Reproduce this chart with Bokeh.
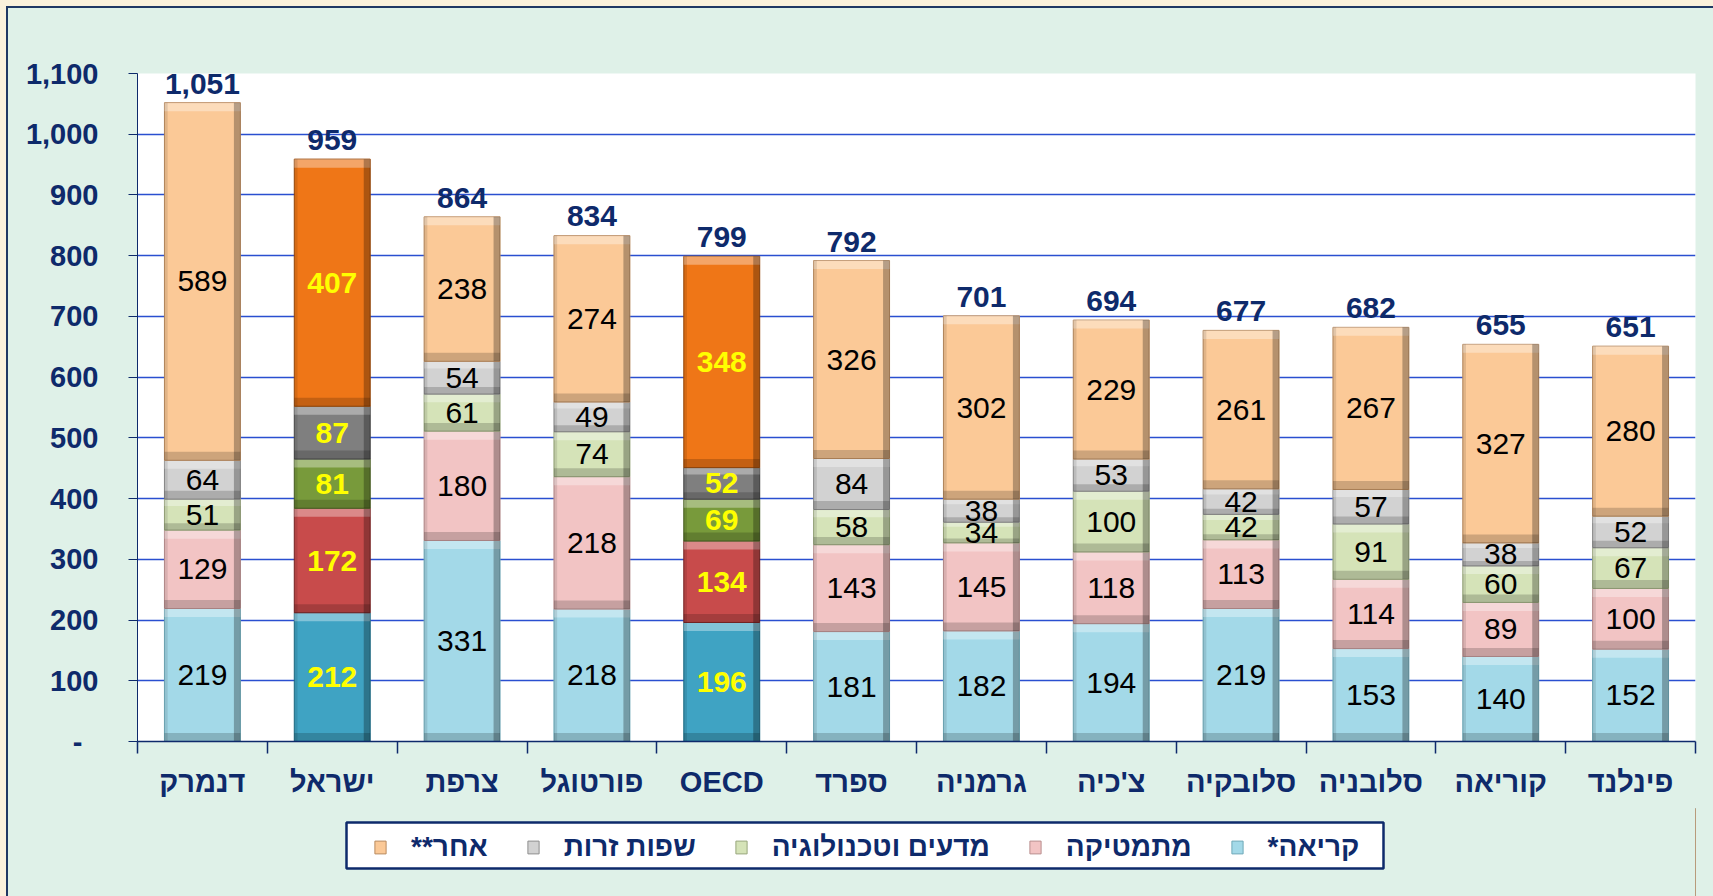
from bokeh.plotting import figure
from bokeh.layouts import column
from bokeh.models import (ColumnDataSource, FixedTicker, NumeralTickFormatter,
                          Legend, LegendItem, LabelSet, BoxAnnotation)
from bokeh.core.properties import value
from bokeh.embed import file_html
from bokeh.resources import INLINE

# ---------------- data ----------------
countries = ["דנמרק", "ישראל", "צרפת", "פורטוגל", "OECD", "ספרד",
             "גרמניה", "צ'כיה", "סלובקיה", "סלובניה", "קוריאה", "פינלנד"]
series_names = ["קריאה*\u200f", "מתמטיקה", "מדעים וטכנולוגיה", "שפות זרות", "אחר**\u200f"]
reading = [219, 212, 331, 218, 196, 181, 182, 194, 219, 153, 140, 152]
math = [129, 172, 180, 218, 134, 143, 145, 118, 113, 114, 89, 100]
science = [51, 81, 61, 74, 69, 58, 34, 100, 42, 91, 60, 67]
languages = [64, 87, 54, 49, 52, 84, 38, 53, 42, 57, 38, 52]
other = [589, 407, 238, 274, 348, 326, 302, 229, 261, 267, 327, 280]
totals = [1051, 959, 864, 834, 799, 792, 701, 694, 677, 682, 655, 651]
highlighted = ["ישראל", "OECD"]
y_ticks = list(range(0, 1101, 100))

# ---------------- style ----------------
light_colors = ["#A3D9E8", "#F2C4C4", "#D5E3B8", "#D2D2D2", "#FBC997"]
dark_colors = ["#3FA3C3", "#C84B4B", "#789A3B", "#7F7F7F", "#EF7617"]
edge_light = ["#6FA9B8", "#B98E8E", "#98A67C", "#8E8E8E", "#B98A5E"]
edge_dark = ["#1F6E88", "#7E2626", "#4B6224", "#4A4A4A", "#9B4A0A"]
NAVY = "#0E2A6B"
BG = "#DFF1E8"
FONT = "Liberation Sans"
BAR_W = 0.585

series = [reading, math, science, languages, other]
xs = [i + 0.5 for i in range(len(countries))]

p = figure(width=1705, height=800, x_range=(0, len(countries)), y_range=(0, 1100),
           output_backend="svg", toolbar_location=None,
           min_border_left=129, min_border_right=18, min_border_top=65, min_border_bottom=67,
           background_fill_color="white", border_fill_color=BG)
p.outline_line_color = None
p.xgrid.grid_line_color = None
p.ygrid.grid_line_color = "#2A4FD0"
p.ygrid.grid_line_width = 1.5
p.ygrid.ticker = FixedTicker(ticks=y_ticks)

lbl_norm = dict(x=[], y=[], t=[])
lbl_hi = dict(x=[], y=[], t=[])
bottoms = [0] * len(countries)
for k, vals in enumerate(series):
    is_hi = [c in highlighted for c in countries]
    cols = [dark_colors[k] if h else light_colors[k] for h in is_hi]
    lcols = [edge_dark[k] if h else edge_light[k] for h in is_hi]
    tops = [b + v for b, v in zip(bottoms, vals)]
    src = ColumnDataSource(dict(x=xs, bottom=bottoms, top=tops, color=cols, lcolor=lcols))
    p.vbar(x="x", width=BAR_W, bottom="bottom", top="top", source=src,
           fill_color="color", line_color="lcolor", line_width=1)
    # bevel decoration (derived from the same data)
    band = [min(14, v * 0.22) for v in vals]
    deco = ColumnDataSource(dict(
        l=[x - BAR_W / 2 for x in xs], r=[x + BAR_W / 2 for x in xs],
        rl=[x + BAR_W / 2 - 0.05 for x in xs], ll=[x - BAR_W / 2 + 0.025 for x in xs],
        b=bottoms, t=tops,
        tb=[t - h for t, h in zip(tops, band)], bt=[b + h for b, h in zip(bottoms, band)]))
    p.quad(left="l", right="r", bottom="tb", top="t", source=deco,
           fill_color="white", fill_alpha=0.35, line_color=None)
    p.quad(left="l", right="r", bottom="b", top="bt", source=deco,
           fill_color="black", fill_alpha=0.18, line_color=None)
    p.quad(left="rl", right="r", bottom="b", top="t", source=deco,
           fill_color="black", fill_alpha=0.28, line_color=None)
    p.quad(left="l", right="ll", bottom="b", top="t", source=deco,
           fill_color="black", fill_alpha=0.10, line_color=None)
    for i, v in enumerate(vals):
        d = lbl_hi if is_hi[i] else lbl_norm
        d["x"].append(xs[i])
        d["y"].append(bottoms[i] + v / 2)
        d["t"].append(str(v))
    bottoms = tops

p.text(x="x", y="y", text="t", source=ColumnDataSource(lbl_norm),
       text_font=value(FONT), text_font_size="30px", text_color="black",
       text_align="center", text_baseline="middle")
p.text(x="x", y="y", text="t", source=ColumnDataSource(lbl_hi),
       text_font=value(FONT), text_font_size="30px", text_font_style="bold",
       text_color="#FFFF00", text_align="center", text_baseline="middle")

tot_src = ColumnDataSource(dict(x=xs, y=totals, t=[f"{v:,}" for v in totals]))
p.add_layout(LabelSet(x="x", y="y", text="t", source=tot_src, y_offset=19,
                      text_font=value(FONT), text_font_size="30px", text_font_style="bold",
                      text_color=NAVY, text_align="center", text_baseline="middle"))

# axes
p.yaxis.ticker = FixedTicker(ticks=y_ticks)
p.yaxis.formatter = NumeralTickFormatter(format="0,0")
p.yaxis.major_label_overrides = {0: "-\u00a0\u00a0"}
p.yaxis.major_tick_out = 9
p.yaxis.major_tick_in = 0
p.yaxis.minor_tick_line_color = None
p.yaxis.major_label_standoff = 30
p.yaxis.axis_line_color = NAVY
p.yaxis.major_tick_line_color = NAVY
p.yaxis.major_label_text_font = FONT
p.yaxis.major_label_text_font_size = "29px"
p.yaxis.major_label_text_font_style = "bold"
p.yaxis.major_label_text_color = NAVY

p.xaxis.ticker = FixedTicker(ticks=xs, minor_ticks=list(range(len(countries) + 1)))
p.xaxis.major_label_overrides = {x: c for x, c in zip(xs, countries)}
p.xaxis.major_tick_out = 0
p.xaxis.major_tick_in = 0
p.xaxis.minor_tick_out = 12
p.xaxis.minor_tick_in = 0
p.xaxis.minor_tick_line_color = NAVY
p.xaxis.minor_tick_line_width = 1.5
p.xaxis.axis_line_color = NAVY
p.xaxis.axis_line_width = 1.5
p.xaxis.major_label_standoff = 12
p.xaxis.major_label_text_font = FONT
p.xaxis.major_label_text_font_size = "29px"
p.xaxis.major_label_text_font_style = "bold"
p.xaxis.major_label_text_color = NAVY

# ---------------- legend strip ----------------
p2 = figure(width=1705, height=88, x_range=(0, 1), y_range=(0, 1),
            output_backend="svg", toolbar_location=None,
            x_axis_location=None, y_axis_location=None,
            min_border_left=129, min_border_right=18, min_border_top=0, min_border_bottom=0,
            background_fill_color=BG, border_fill_color=BG)
p2.outline_line_color = None
p2.grid.visible = False
# legend frame box (screen units, relative to the strip's frame)
p2.add_layout(BoxAnnotation(left=209, right=1246, bottom=28, top=74,
                            left_units="screen", right_units="screen",
                            bottom_units="screen", top_units="screen",
                            fill_color="white", fill_alpha=1.0,
                            line_color=NAVY, line_alpha=1.0, line_width=2.5))
leg_renderers = []
for k in range(len(series)):
    # one point placed outside the visible range: only its legend swatch shows
    leg_renderers.append(p2.vbar(x=[5], top=[1], width=0.1, fill_color=light_colors[k],
                                 line_color=edge_light[k]))
# left to right: other, languages, science, math, reading
items = [LegendItem(label=series_names[k], renderers=[leg_renderers[k]], index=0)
         for k in reversed(range(len(series)))]
legend = Legend(items=items, orientation="horizontal", location=(236, 33),
                label_text_font=FONT, label_text_font_size="28px",
                label_text_font_style="bold", label_text_color=NAVY,
                glyph_width=14, glyph_height=16, label_standoff=24, spacing=38,
                padding=6, margin=0, border_line_color=None,
                background_fill_alpha=0.0)
p2.add_layout(legend)

layout = column(p, p2, spacing=0)
html = file_html(layout, INLINE)
css = ("<style>"
       "html {margin:0 !important; padding:6px 0 0 6px !important; background-color:#FAF1DC !important;"
       " box-sizing:border-box !important; height:100% !important; overflow:hidden !important;}"
       "body {margin:0 !important; padding:0 !important; background-color:#DFF1E8 !important;"
       " border-left:2px solid #1F3864; border-top:2px solid #1F3864;"
       " box-sizing:border-box !important; height:100% !important; overflow:hidden !important;}"
       "</style>")
html = html.replace("</head>", css + "</head>", 1)
open("out.html", "w").write(html)
